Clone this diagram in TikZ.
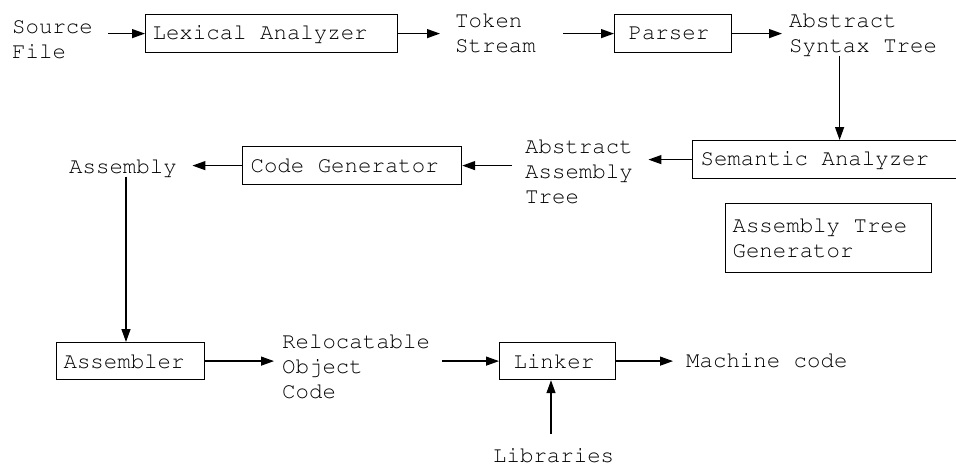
\documentclass[tikz,border=0pt]{standalone}
\usepackage[T1]{fontenc}
\usepackage{courier}
\usetikzlibrary{arrows.meta}
\begin{document}
\begin{tikzpicture}[x=1pt,y=-1pt,
  every node/.style={font=\fontfamily{pcr}\fontsize{22.4}{24.8}\selectfont},
  lbl/.style={anchor=base west, inner sep=0pt, align=left},
  stagebox/.style 2 args={draw, line width=1.2pt, anchor=north west, inner ysep=0pt,
      inner xsep=#2, text width=#1-2*#2, align=left,
      execute at begin node={\spaceskip=13.44pt\relax}},
  arr/.style={line width=1.3pt, -{Triangle[length=13pt,width=9pt]}},
  ln/.style={line width=1.3pt}]
\clip (0,0) rectangle (956,466);
\fill[white] (0,0) rectangle (956,466);
% text labels (anchored at the baseline of their last line)
\node[lbl] (src) at (12,58) {Source\\File};
\node[lbl] (tok) at (455,52) {Token\\Stream};
\node[lbl] (ast) at (789,52) {Abstract\\Syntax Tree};
\node[lbl] (aat) at (525,203) {Abstract\\Assembly\\Tree};
\node[lbl] (asm) at (69,173) {Assembly};
\node[lbl] (rel) at (282,398) {Relocatable\\Object\\Code};
\node[lbl] (mc) at (686,367) {Machine code};
\node[lbl] (lib) at (493,462) {Libraries};
% boxes
\node[stagebox={252pt}{7pt}, minimum height=38pt] (lex) at (145,14) {Lexical Analyzer};
\node[stagebox={117pt}{14pt}, minimum height=38pt] (par) at (614,14) {Parser};
\node[stagebox={294pt}{8pt}, minimum height=38pt] (sem) at (692,140) {Semantic Analyzer};
\node[stagebox={219pt}{8pt}, minimum height=38pt] (cg) at (242,146) {Code Generator};
\node[stagebox={148pt}{7pt}, minimum height=37pt] (asmr) at (56,342) {Assembler};
\node[stagebox={116pt}{14pt}, minimum height=37pt] (lnk) at (499,342) {Linker};
\node[stagebox={206pt}{7pt}, minimum height=69pt] (atg) at (725,203) {Assembly Tree\\Generator};
% connectors
\draw[arr, shorten <=15pt] (src.east |- lex.west) -- (lex.west);
\draw[arr, shorten >=15pt] (lex.east) -- (lex.east -| tok.west);
\draw[arr, shorten <=27pt] (par.west -| tok.east) -- (par.west);
\draw[arr, shorten >=7pt] (par.east) -- (par.east -| ast.west);
\draw[arr] (ast.south -| sem.north) -- (sem.north);
\draw[arr, shorten >=15.5pt] (sem.west) -- (sem.west -| aat.east);
\draw[arr, shorten <=13pt] (cg.east -| aat.west) -- (cg.east);
\draw[arr, shorten >=15.5pt] (cg.west) -- (cg.west -| asm.east);
\draw[arr] (asm.south -| 126,0) -- (asmr.north -| 126,0);
\draw[arr, shorten >=8pt] (asmr.east) -- (asmr.east -| rel.west);
\draw[arr, shorten <=12pt] (lnk.west -| rel.east) -- (lnk.west);
\draw[arr, shorten >=13pt] (lnk.east) -- (lnk.east -| mc.west);
\draw[arr, shorten <=13pt] (lib.north -| 551,0) -- (lnk.south -| 551,0);
\end{tikzpicture}
\end{document}
